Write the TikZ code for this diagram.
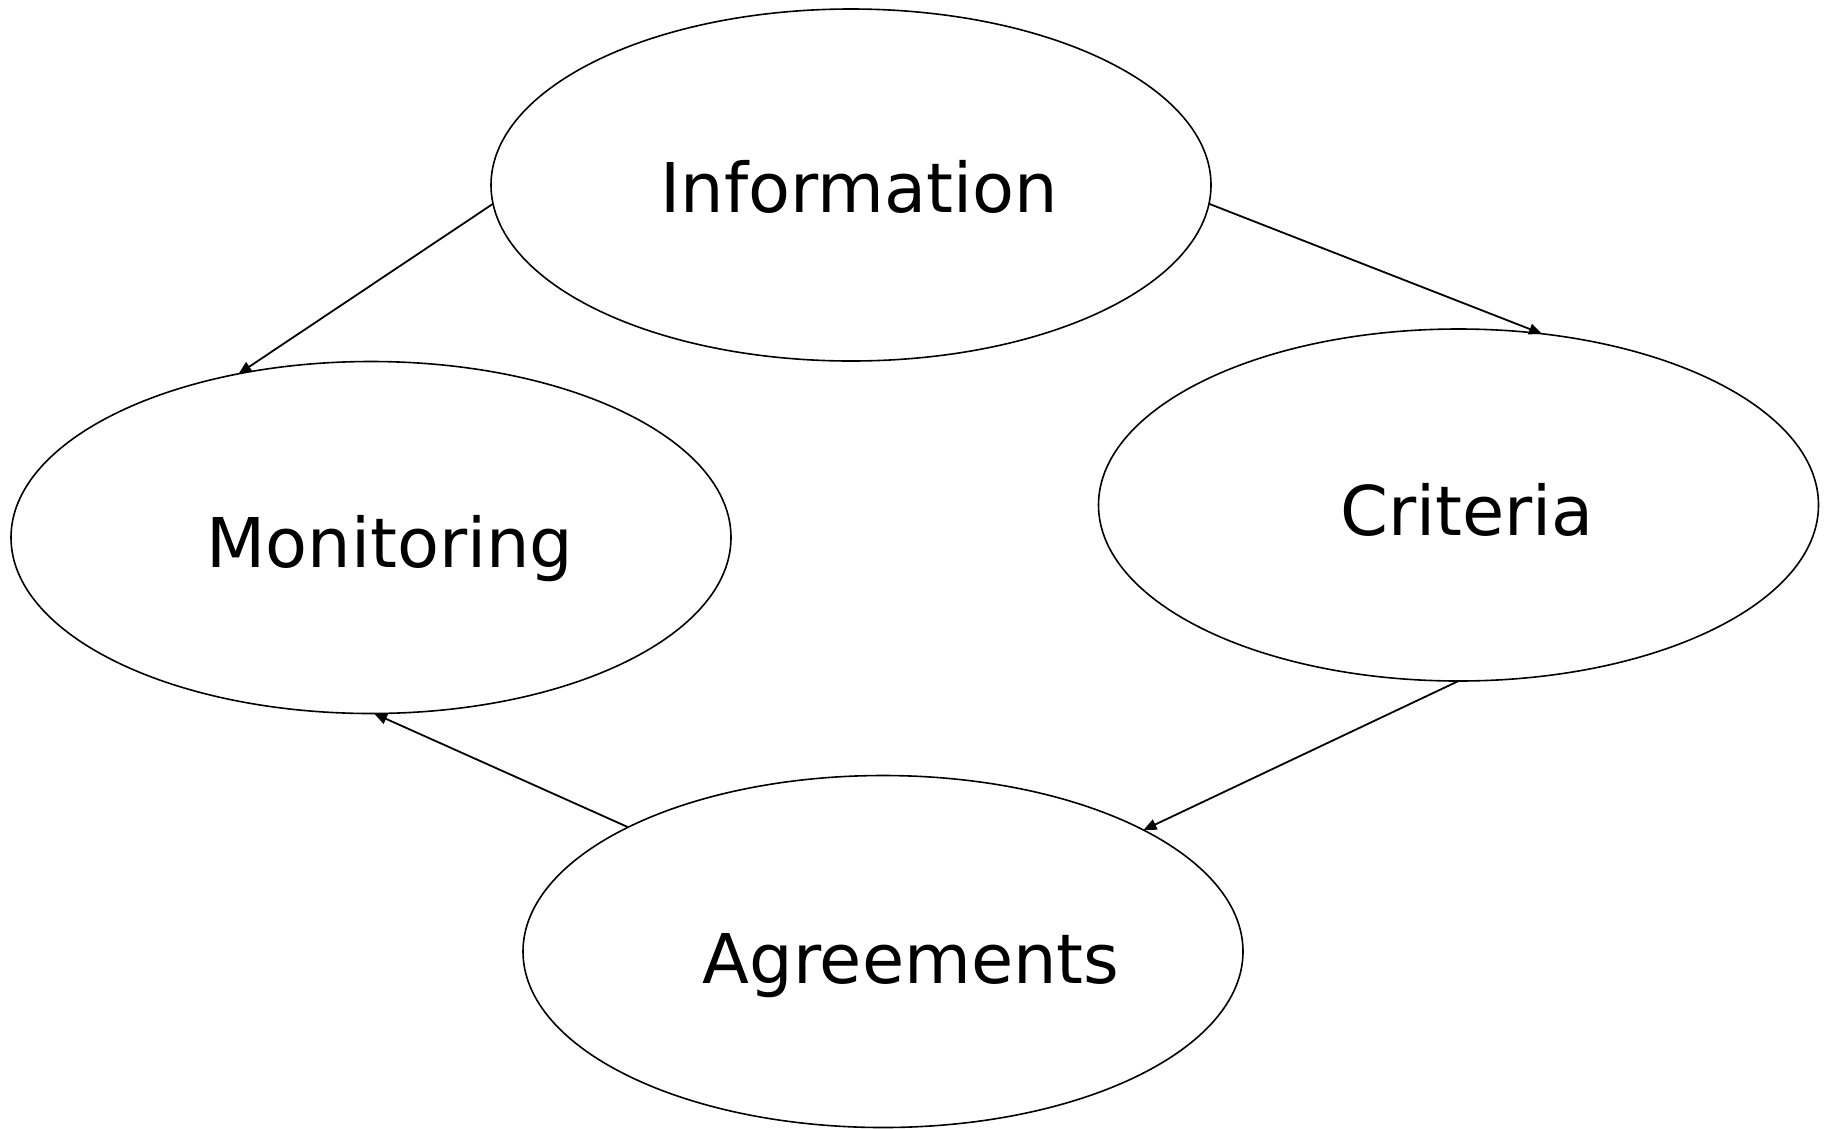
\documentclass[tikz,border=0pt]{standalone}
\usepackage{fontspec}
\setmainfont{DejaVu Sans}
\usetikzlibrary{arrows.meta,shapes.geometric}
\begin{document}
\begin{tikzpicture}[x=1pt,y=-1pt,
  ell/.style={draw=black, line width=1.6pt, ellipse, minimum width=720pt, minimum height=352pt, inner sep=0pt, outer sep=0pt},
  lbl/.style={anchor=base, inner sep=0pt, font=\fontsize{68.6}{80}\selectfont},
  conn/.style={draw=black, line width=1.8pt, -{Triangle[length=13pt,width=11pt]}}]
\useasboundingbox (0,0) rectangle (1830,1128);
\node[ell] (info) at (851,185) {};
\node[ell] (mon) at (371,537.5) {};
\node[ell] (crit) at (1458.5,505) {};
\node[ell] (agr) at (883,951.5) {};
\node[lbl] (tinfo) at (859,212) {Information};
\node[lbl] (tmon) at (390,567) {Monitoring};
\node[lbl] (tcrit) at (1467,535) {Criteria};
\node[lbl] (tagr) at (911,983) {Agreements};
\draw[conn] (info.183.2) -- (mon.129.6);
\draw[conn] (info.357.9) -- (crit.64.6);
\draw[conn] (crit.270) -- (agr.25.9);
\draw[conn] (agr.154.3) -- (mon.271.5);
\end{tikzpicture}
\end{document}
